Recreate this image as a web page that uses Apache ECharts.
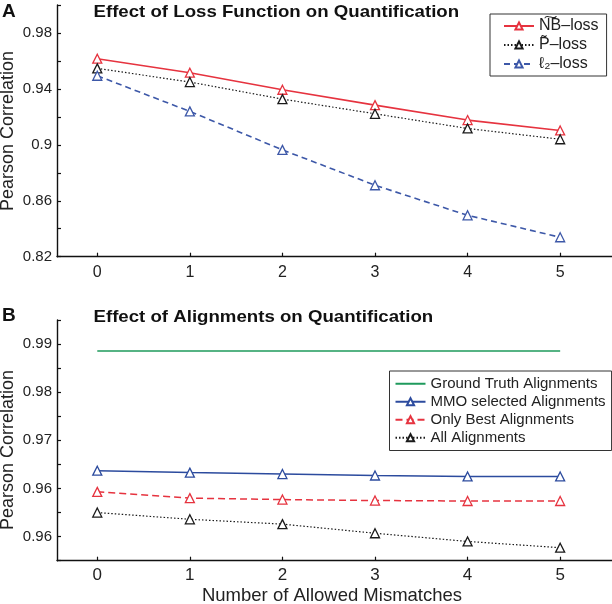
<!DOCTYPE html>
<html>
<head>
<meta charset="utf-8">
<script src="https://cdn.jsdelivr.net/npm/echarts@6/dist/echarts.min.js"></script>
<style>
html,body{margin:0;padding:0;background:#fff;}
#main{width:612px;height:604px;}
</style>
</head>
<body>
<div id="main"></div>
<script>
// ---- data ----
const xVals = [0, 1, 2, 3, 4, 5];
const xTickLabels = ['0', '1', '2', '3', '4', '5'];

// Panel A
const nbLoss = [0.9616, 0.9516, 0.9394, 0.9284, 0.9177, 0.9103];
const pLoss  = [0.9547, 0.9449, 0.9327, 0.9222, 0.9117, 0.9040];
const l2Loss = [0.9494, 0.9239, 0.8964, 0.8711, 0.8496, 0.8339];
const aTickValues = [0.82, 0.86, 0.9, 0.94, 0.98];
const aTickLabels = ['0.82', '0.86', '0.9', '0.94', '0.98'];

// Panel B
const groundTruth = [0.98855, 0.98855, 0.98855, 0.98855, 0.98855, 0.98855];
const mmoSelected = [0.9637, 0.9633, 0.9630, 0.9627, 0.9625, 0.9625];
const onlyBest    = [0.9593, 0.9580, 0.9577, 0.9575, 0.9574, 0.9574];
const allAlign    = [0.9550, 0.9536, 0.9526, 0.9507, 0.9490, 0.9477];
const bTickValues = [0.95, 0.96, 0.97, 0.98, 0.99];
const bTickLabels = ['0.96', '0.96', '0.97', '0.98', '0.99'];

const namesA = ['N\u0360B\u2013loss', 'P\u0303\u2013loss', '\u2113\u2082\u2013loss'];
const namesB = ['Ground Truth Alignments', 'MMO selected Alignments', 'Only Best Alignments', 'All Alignments'];

// ---- helpers ----
const FONT = 'Liberation Sans, Arial, Helvetica, sans-serif';
function pairs(ys) { return xVals.map((x, i) => [x, ys[i]]); }
function fmt(vals, labels) {
  return function (v) {
    const i = vals.findIndex(t => Math.abs(t - v) < 1e-9);
    return i >= 0 ? labels[i] : '';
  };
}
const axisLineStyle = { color: '#111', width: 1.4 };
function xAxisCfg(gridIndex, labelSize, labelMargin) {
  return {
    type: 'value', gridIndex, min: -0.435, max: 5.56,
    axisLine: { show: true, onZero: false, lineStyle: axisLineStyle },
    axisTick: { show: true, inside: true, length: 4, customValues: xVals, lineStyle: { color: '#111', width: 1.2 } },
    axisLabel: { customValues: xVals, formatter: fmt(xVals, xTickLabels), fontSize: labelSize, color: '#222', fontFamily: FONT, margin: labelMargin },
    splitLine: { show: false }
  };
}
function yAxisCfg(gridIndex, min, max, interval, vals, labels) {
  return {
    type: 'value', gridIndex, min, max, interval,
    axisLine: { show: true, onZero: false, lineStyle: axisLineStyle },
    axisTick: { show: true, inside: true, length: 4, lineStyle: { color: '#111', width: 1.2 } },
    axisLabel: { formatter: fmt(vals, labels), fontSize: 15, color: '#222', fontFamily: FONT, margin: 5, showMinLabel: true, showMaxLabel: true },
    splitLine: { show: false }
  };
}
function lineSeries(name, data, xi, color, type, width, symbol) {
  return {
    name, type: 'line', xAxisIndex: xi, yAxisIndex: xi, data: pairs(data),
    symbol: symbol ? 'triangle' : 'none', symbolSize: 9,
    itemStyle: { color: '#fff', borderColor: color, borderWidth: 1.3 },
    lineStyle: { color, type, width },
    emphasis: { disabled: true }, animation: false
  };
}

const RED = '#e6333f', BLACK = '#1a1a1a', BLUE_A = '#3d58a8', BLUE_B = '#2c4b9e', GREEN = '#1f9a5c';

const legendBData = namesB.map((n, i) => i === 0
  ? { name: n, itemStyle: { color: 'rgba(0,0,0,0)', borderColor: 'rgba(0,0,0,0)', borderWidth: 0 } }
  : n);

const chart = echarts.init(document.getElementById('main'), null, { renderer: 'canvas' });
chart.setOption({
  backgroundColor: '#fff',
  animation: false,
  textStyle: { fontFamily: FONT },
  grid: [
    { left: 57, top: 5, width: 555, height: 251.7 },
    { left: 57, top: 320, width: 555, height: 240.7 }
  ],
  xAxis: [xAxisCfg(0, 16, 8), xAxisCfg(1, 17, 6)],
  yAxis: [
    yAxisCfg(0, 0.82, 1.0, 0.02, aTickValues, aTickLabels),
    yAxisCfg(1, 0.945, 0.995, 0.005, bTickValues, bTickLabels)
  ],
  legend: [
    {
      data: namesA, orient: 'vertical', left: 490, top: 14,
      padding: [3, 8, 3, 13], itemGap: 1, itemWidth: 30, itemHeight: 9,
      borderColor: '#333', borderWidth: 1, backgroundColor: '#fff',
      textStyle: { fontSize: 16, lineHeight: 18, color: '#222', fontFamily: FONT },
      selectedMode: false
    },
    {
      data: legendBData, orient: 'vertical', left: 389.5, top: 371,
      padding: [4, 6, 4, 5], itemGap: 0.5, itemWidth: 30, itemHeight: 9,
      borderColor: '#333', borderWidth: 1, backgroundColor: '#fff',
      textStyle: { fontSize: 15, lineHeight: 17.5, color: '#222', fontFamily: FONT },
      selectedMode: false
    }
  ],
  series: [
    lineSeries(namesA[0], nbLoss, 0, RED, 'solid', 1.6, true),
    lineSeries(namesA[1], pLoss, 0, BLACK, [1.5, 2], 1.2, true),
    lineSeries(namesA[2], l2Loss, 0, BLUE_A, [6, 4], 1.6, true),
    lineSeries(namesB[0], groundTruth, 1, GREEN, 'solid', 1.6, false),
    lineSeries(namesB[1], mmoSelected, 1, BLUE_B, 'solid', 1.5, true),
    lineSeries(namesB[2], onlyBest, 1, RED, [7, 4], 1.5, true),
    lineSeries(namesB[3], allAlign, 1, BLACK, [1.5, 2], 1.2, true)
  ],
  graphic: [
    { type: 'text', left: 2, top: 2, style: { text: 'A', font: 'bold 19px ' + FONT, fill: '#111' } },
    { type: 'text', left: 2, top: 306, style: { text: 'B', font: 'bold 19px ' + FONT, fill: '#111' } },
    { type: 'text', x: 93.5, y: 12.7, scaleX: 1.13, style: { text: 'Effect of Loss Function on Quantification', font: 'bold 16.5px ' + FONT, fill: '#111', textVerticalAlign: 'middle' } },
    { type: 'text', x: 93.5, y: 317, scaleX: 1.13, style: { text: 'Effect of Alignments on Quantification', font: 'bold 16.5px ' + FONT, fill: '#111', textVerticalAlign: 'middle' } },
    { type: 'text', x: 8, y: 131, rotation: Math.PI / 2, style: { text: 'Pearson Correlation', font: '18px ' + FONT, fill: '#222', textAlign: 'center', textVerticalAlign: 'middle' } },
    { type: 'text', x: 8, y: 450, rotation: Math.PI / 2, style: { text: 'Pearson Correlation', font: '18px ' + FONT, fill: '#222', textAlign: 'center', textVerticalAlign: 'middle' } },
    { type: 'text', x: 332, y: 596, style: { text: 'Number of Allowed Mismatches', font: '18.5px ' + FONT, fill: '#222', textAlign: 'center', textVerticalAlign: 'middle' } }
  ]
});
</script>
</body>
</html>
